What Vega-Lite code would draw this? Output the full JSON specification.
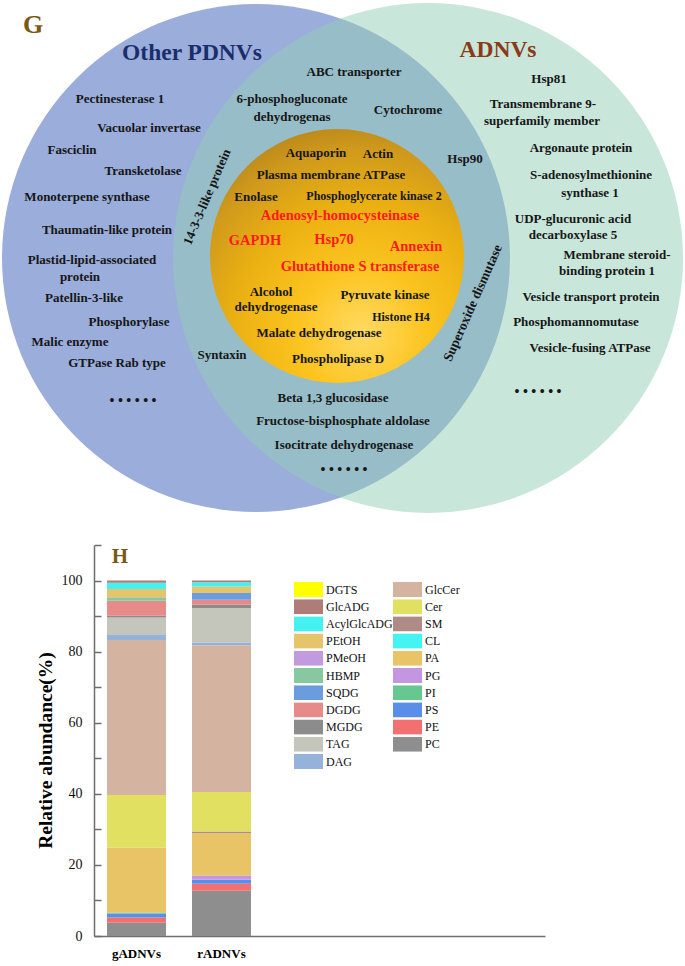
{
  "$schema": "https://vega.github.io/schema/vega-lite/v6.json",
  "width": 685,
  "height": 966,
  "autosize": "none",
  "padding": 0,
  "background": "white",
  "config": {
    "view": {"stroke": null},
    "font": "Liberation Serif",
    "text": {"font": "Liberation Serif", "fontWeight": "bold"}
  },
  "datasets": {
    "circles": [
      {"set": "Other PDNVs", "x": 256, "y": 258, "r": 254},
      {"set": "ADNVs", "x": 428, "y": 258, "r": 255},
      {"set": "Shared core", "x": 337, "y": 256, "r": 127}
    ],
    "setNames": [
      {"set": "Other PDNVs", "x": 192, "y": 53},
      {"set": "ADNVs", "x": 498, "y": 50}
    ],
    "panels": [
      {"label": "G", "x": 33, "y": 25},
      {"label": "H", "x": 120, "y": 557}
    ],
    "proteins": [
      {"label": "Pectinesterase 1", "x": 120, "y": 99},
      {"label": "Vacuolar invertase", "x": 149, "y": 128},
      {"label": "Fasciclin", "x": 72, "y": 150},
      {"label": "Transketolase", "x": 143, "y": 171},
      {"label": "Monoterpene synthase", "x": 87, "y": 197},
      {"label": "Thaumatin-like protein", "x": 107, "y": 230},
      {"label": "Plastid-lipid-associated", "x": 92, "y": 260},
      {"label": "protein", "x": 80, "y": 277},
      {"label": "Patellin-3-like", "x": 84, "y": 298},
      {"label": "Phosphorylase", "x": 129, "y": 322},
      {"label": "Malic enzyme", "x": 70, "y": 342},
      {"label": "GTPase Rab type", "x": 117, "y": 363},
      {"label": "ABC transporter", "x": 354, "y": 72},
      {"label": "6-phosphogluconate", "x": 292, "y": 99},
      {"label": "dehydrogenas", "x": 292, "y": 117},
      {"label": "Cytochrome", "x": 408, "y": 110},
      {"label": "Hsp90", "x": 465, "y": 159},
      {"label": "Syntaxin", "x": 222, "y": 355},
      {"label": "Beta 1,3 glucosidase", "x": 333, "y": 398},
      {"label": "Fructose-bisphosphate aldolase", "x": 343, "y": 421},
      {"label": "Isocitrate dehydrogenase", "x": 344, "y": 445},
      {"label": "Aquaporin", "x": 316, "y": 153},
      {"label": "Actin", "x": 378, "y": 154},
      {"label": "Plasma membrane ATPase", "x": 331, "y": 175},
      {"label": "Enolase", "x": 256, "y": 197},
      {"label": "Alcohol", "x": 271, "y": 292},
      {"label": "dehydrogenase", "x": 276, "y": 307},
      {"label": "Pyruvate kinase", "x": 385, "y": 295},
      {"label": "Malate dehydrogenase", "x": 319, "y": 333},
      {"label": "Phospholipase D", "x": 338, "y": 359},
      {"label": "Hsp81", "x": 549, "y": 79},
      {"label": "Transmembrane 9-", "x": 543, "y": 104},
      {"label": "superfamily member", "x": 542, "y": 121},
      {"label": "Argonaute protein", "x": 581, "y": 148},
      {"label": "S-adenosylmethionine", "x": 591, "y": 175},
      {"label": "synthase 1", "x": 590, "y": 193},
      {"label": "UDP-glucuronic acid", "x": 573, "y": 219},
      {"label": "decarboxylase 5", "x": 573, "y": 235},
      {"label": "Membrane steroid-", "x": 617, "y": 255},
      {"label": "binding protein 1", "x": 607, "y": 271},
      {"label": "Vesicle transport protein", "x": 591, "y": 297},
      {"label": "Phosphomannomutase", "x": 576, "y": 322},
      {"label": "Vesicle-fusing ATPase", "x": 590, "y": 348}
    ],
    "minorProteins": [
      {"label": "Phosphoglycerate kinase 2", "x": 374, "y": 196},
      {"label": "Histone H4", "x": 401, "y": 317}
    ],
    "keyProteins": [
      {"label": "Adenosyl-homocysteinase", "x": 340, "y": 216},
      {"label": "GAPDH", "x": 255, "y": 241},
      {"label": "Hsp70", "x": 334, "y": 240},
      {"label": "Annexin", "x": 416, "y": 247},
      {"label": "Glutathione S transferase", "x": 360, "y": 267}
    ],
    "ellipses": [
      {"region": "Other PDNVs", "label": "• • • • • •", "x": 133, "y": 401},
      {"region": "Shared", "label": "• • • • • •", "x": 344, "y": 470},
      {"region": "ADNVs", "label": "• • • • • •", "x": 538, "y": 392}
    ],
    "arcLabels": [
      {"label": "14-3-3-like protein", "x": 207, "y": 197, "side": "left"},
      {"label": "Superoxide dismutase", "x": 473, "y": 303, "side": "right"}
    ],
    "lipids": [
      {"sample": "gADNVs", "lipid": "PC", "value": 3.7},
      {"sample": "gADNVs", "lipid": "PE", "value": 1.5},
      {"sample": "gADNVs", "lipid": "PS", "value": 1.1},
      {"sample": "gADNVs", "lipid": "PI", "value": 0.3},
      {"sample": "gADNVs", "lipid": "PA", "value": 18.3},
      {"sample": "gADNVs", "lipid": "Cer", "value": 14.8},
      {"sample": "gADNVs", "lipid": "GlcCer", "value": 43.6},
      {"sample": "gADNVs", "lipid": "DAG", "value": 1.4},
      {"sample": "gADNVs", "lipid": "TAG", "value": 4.9},
      {"sample": "gADNVs", "lipid": "MGDG", "value": 0.5},
      {"sample": "gADNVs", "lipid": "DGDG", "value": 4.2},
      {"sample": "gADNVs", "lipid": "HBMP", "value": 1.0},
      {"sample": "gADNVs", "lipid": "PEtOH", "value": 2.3},
      {"sample": "gADNVs", "lipid": "AcylGlcADG", "value": 1.8},
      {"sample": "gADNVs", "lipid": "GlcADG", "value": 0.6},
      {"sample": "rADNVs", "lipid": "PC", "value": 12.7},
      {"sample": "rADNVs", "lipid": "PE", "value": 2.0},
      {"sample": "rADNVs", "lipid": "PS", "value": 1.1},
      {"sample": "rADNVs", "lipid": "PG", "value": 1.2},
      {"sample": "rADNVs", "lipid": "PA", "value": 11.9},
      {"sample": "rADNVs", "lipid": "SM", "value": 0.5},
      {"sample": "rADNVs", "lipid": "Cer", "value": 11.1},
      {"sample": "rADNVs", "lipid": "GlcCer", "value": 41.3},
      {"sample": "rADNVs", "lipid": "DAG", "value": 0.8},
      {"sample": "rADNVs", "lipid": "TAG", "value": 9.7},
      {"sample": "rADNVs", "lipid": "MGDG", "value": 0.9},
      {"sample": "rADNVs", "lipid": "DGDG", "value": 1.4},
      {"sample": "rADNVs", "lipid": "SQDG", "value": 1.9},
      {"sample": "rADNVs", "lipid": "PEtOH", "value": 1.8},
      {"sample": "rADNVs", "lipid": "AcylGlcADG", "value": 1.2},
      {"sample": "rADNVs", "lipid": "GlcADG", "value": 0.5}
    ]
  },
  "layer": [
    {
      "encoding": {
        "x": {"field": "x", "type": "quantitative", "scale": {"domain": [0, 685], "nice": false, "zero": false}, "axis": null},
        "y": {"field": "y", "type": "quantitative", "scale": {"domain": [0, 966], "nice": false, "zero": false, "reverse": true}, "axis": null}
      },
      "layer": [
        {
          "data": {"name": "circles"},
          "transform": [{"filter": "datum.set === 'Other PDNVs'"}],
          "mark": {"type": "point", "shape": "circle", "filled": true, "opacity": 1, "fill": "#9aaddb", "strokeWidth": 0},
          "encoding": {
            "size": {"field": "r", "type": "quantitative", "scale": {"type": "pow", "exponent": 2, "domain": [0, 300], "range": [0, 360000]}, "legend": null}
          }
        },
        {
          "data": {"name": "circles"},
          "transform": [{"filter": "datum.set === 'ADNVs'"}],
          "mark": {"type": "point", "shape": "circle", "filled": true, "opacity": 0.5, "fill": "#91cdb5", "strokeWidth": 0},
          "encoding": {
            "size": {"field": "r", "type": "quantitative", "scale": {"type": "pow", "exponent": 2, "domain": [0, 300], "range": [0, 360000]}, "legend": null}
          }
        },
        {
          "data": {"name": "circles"},
          "transform": [{"filter": "datum.set === 'Shared core'"}],
          "mark": {
            "type": "point", "shape": "circle", "filled": true, "opacity": 1, "strokeWidth": 0,
            "fill": {
              "gradient": "radial", "x1": 0.6, "y1": 0.8, "r1": 0, "x2": 0.6, "y2": 0.8, "r2": 0.85,
              "stops": [
                {"offset": 0, "color": "#ffda63"},
                {"offset": 0.3, "color": "#fcc41f"},
                {"offset": 0.6, "color": "#eab012"},
                {"offset": 0.85, "color": "#cf991c"},
                {"offset": 1, "color": "#b8861a"}
              ]
            }
          },
          "encoding": {
            "size": {"field": "r", "type": "quantitative", "scale": {"type": "pow", "exponent": 2, "domain": [0, 300], "range": [0, 360000]}, "legend": null}
          }
        },
        {
          "data": {"name": "setNames"},
          "mark": {"type": "text", "fontSize": 23.5, "fontWeight": "bold"},
          "encoding": {
            "text": {"field": "set"},
            "color": {"field": "set", "type": "nominal", "scale": {"domain": ["Other PDNVs", "ADNVs"], "range": ["#1b2d6b", "#8b3a17"]}, "legend": null}
          }
        },
        {
          "data": {"name": "panels"},
          "transform": [{"filter": "datum.label === 'G'"}],
          "mark": {"type": "text", "fontSize": 26, "fontWeight": "bold", "color": "#7a5a12"},
          "encoding": {"text": {"field": "label"}}
        },
        {
          "data": {"name": "panels"},
          "transform": [{"filter": "datum.label === 'H'"}],
          "mark": {"type": "text", "fontSize": 21, "fontWeight": "bold", "color": "#7a5a12"},
          "encoding": {"text": {"field": "label"}}
        },
        {
          "data": {"name": "proteins"},
          "mark": {"type": "text", "fontSize": 13, "fontWeight": "bold", "color": "#161616"},
          "encoding": {"text": {"field": "label"}}
        },
        {
          "data": {"name": "minorProteins"},
          "mark": {"type": "text", "fontSize": 12, "fontWeight": "bold", "color": "#161616"},
          "encoding": {"text": {"field": "label"}}
        },
        {
          "data": {"name": "keyProteins"},
          "mark": {"type": "text", "fontSize": 14.5, "fontWeight": "bold", "color": "#ff1a1a"},
          "encoding": {"text": {"field": "label"}}
        },
        {
          "data": {"name": "ellipses"},
          "mark": {"type": "text", "fontSize": 14, "fontWeight": "bold", "color": "#161616"},
          "encoding": {"text": {"field": "label"}}
        },
        {
          "data": {"name": "arcLabels"},
          "transform": [{"filter": "datum.side === 'left'"}],
          "mark": {"type": "text", "fontSize": 13, "fontWeight": "bold", "color": "#161616", "angle": -67},
          "encoding": {"text": {"field": "label"}}
        },
        {
          "data": {"name": "arcLabels"},
          "transform": [{"filter": "datum.side === 'right'"}],
          "mark": {"type": "text", "fontSize": 13.5, "fontWeight": "bold", "color": "#161616", "angle": -66},
          "encoding": {"text": {"field": "label"}}
        }
      ]
    },
    {
      "data": {"name": "lipids"},
      "transform": [{"window": [{"op": "row_number", "as": "stackOrder"}], "groupby": ["sample"]}],
      "mark": {"type": "bar", "strokeWidth": 0},
      "encoding": {
        "x": {
          "field": "sample", "type": "nominal",
          "scale": {"domain": ["gADNVs", "rADNVs", "_3", "_4", "_5"], "range": [94, 545], "paddingInner": 0.306, "paddingOuter": 0.306, "align": 0.25},
          "axis": {
            "orient": "bottom", "title": null, "offset": -30, "ticks": false, "labelPadding": 11, "labelAngle": 0,
            "labelExpr": "datum.value === 'gADNVs' || datum.value === 'rADNVs' ? datum.label : ''",
            "labelFont": "Liberation Serif", "labelFontSize": 13, "labelFontWeight": "bold", "labelColor": "#000",
            "domainColor": "#6e6e6e", "domainWidth": 1.5
          }
        },
        "y": {
          "field": "value", "type": "quantitative", "stack": "zero",
          "scale": {"domain": [0, 110], "range": [936, 545], "nice": false},
          "axis": {
            "orient": "left", "title": "Relative abundance(%)", "offset": -94,
            "values": [0, 10, 20, 30, 40, 50, 60, 70, 80, 90, 100, 110],
            "labelExpr": "datum.value % 20 === 0 && datum.value <= 100 ? datum.label : ''",
            "grid": false, "tickSize": -7, "labelPadding": 19, "labelFlush": false,
            "domainColor": "#6e6e6e", "domainWidth": 1.5, "tickColor": "#6e6e6e", "tickWidth": 1.5,
            "labelFont": "Liberation Serif", "labelFontSize": 14, "labelColor": "#111",
            "titleFont": "Liberation Serif", "titleFontSize": 19.5, "titleFontWeight": "bold", "titleColor": "#000",
            "titleX": -49, "titleY": 750, "titleAngle": -90, "titleBaseline": "middle", "titleAlign": "center"
          }
        },
        "color": {
          "field": "lipid", "type": "nominal",
          "scale": {
            "domain": ["DGTS", "GlcADG", "AcylGlcADG", "PEtOH", "PMeOH", "HBMP", "SQDG", "DGDG", "MGDG", "TAG", "DAG", "GlcCer", "Cer", "SM", "CL", "PA", "PG", "PI", "PS", "PE", "PC"],
            "range": ["#ffff00", "#b07c78", "#44f0f0", "#e6c46c", "#c29ae0", "#88c8a0", "#6c9ce0", "#e68a8a", "#8c8c8c", "#c4c6bc", "#94b2da", "#d4b4a0", "#e2e060", "#b08a86", "#44f4f4", "#e8c466", "#c496e2", "#66c890", "#5a8eea", "#f27070", "#8e8e8e"]
          },
          "legend": {
            "orient": "none", "legendX": 294, "legendY": 582, "columns": 2, "title": null, "padding": 0,
            "symbolType": "M-1,-0.52H1V0.52H-1Z", "symbolSize": 841, "symbolStrokeWidth": 0, "symbolOpacity": 1,
            "clipHeight": 15,
            "labelFont": "Liberation Serif", "labelFontSize": 12, "labelColor": "#111", "labelOffset": 3,
            "rowPadding": 2.2, "columnPadding": 0
          }
        },
        "order": {"field": "stackOrder", "type": "quantitative", "sort": "ascending"}
      }
    }
  ],
  "resolve": {"scale": {"x": "independent", "y": "independent", "color": "independent", "size": "independent"}}
}
